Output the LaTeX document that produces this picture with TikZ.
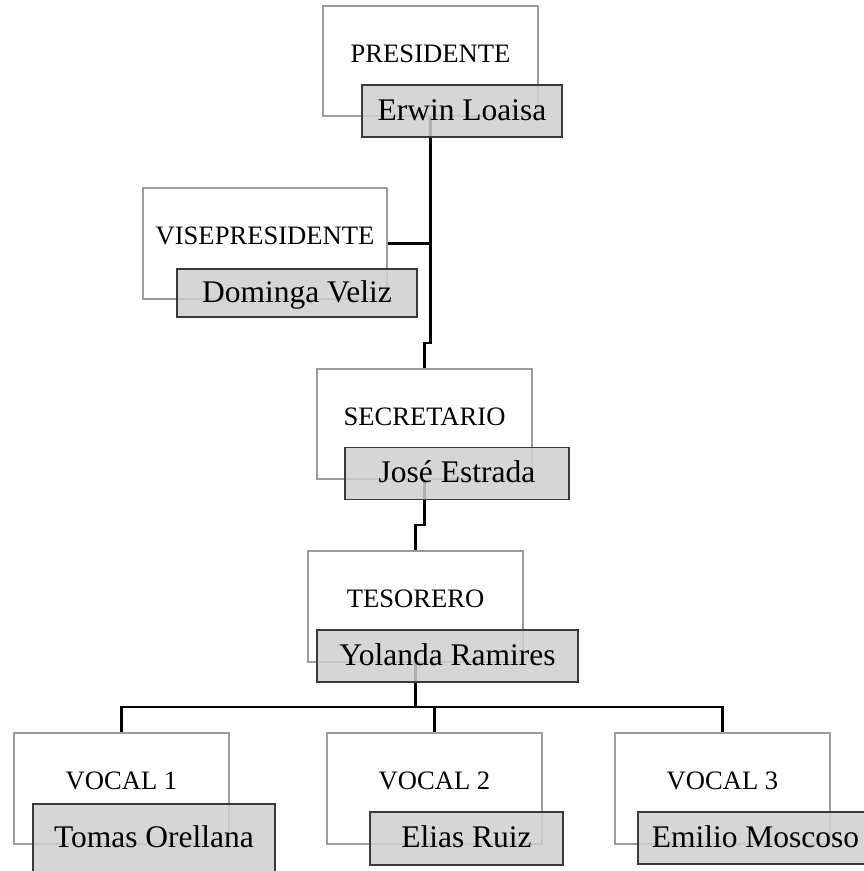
\documentclass[tikz,border=0pt]{standalone}
\usepackage{fontspec}
\setmainfont{Liberation Serif}
\usetikzlibrary{positioning, calc}
\definecolor{frmgray}{HTML}{9C9C9C}
\definecolor{boxgray}{HTML}{CFCFCF}
\definecolor{edgegray}{HTML}{3A3A3A}

\begin{document}
\begin{tikzpicture}[x=1pt, y=-1pt,
  rolebox/.style={draw=frmgray, line width=1.1pt, fill=white, inner sep=0pt},
  roletext/.style={anchor=base, font=\fontsize{26.6}{30}\selectfont},
  namebox/.style={draw=edgegray, line width=1.2pt, fill=boxgray, fill opacity=0.85,
    text opacity=1, inner sep=0pt, minimum height=52pt, text height=20pt, text depth=2pt,
    font=\fontsize{31.5}{36}\selectfont},
  link/.style={black, line width=2.6pt}]

% Page (pixel grid, y downwards)
\clip (0,0) rectangle (864,871);

% Frames of the offices
\node[rolebox, minimum width=215pt, minimum height=110pt] (pres) at (430.5,61) {};
\node[rolebox, minimum width=244pt, minimum height=111pt] (vise) at (265,243.5) {};
\node[rolebox, minimum width=215pt, minimum height=110pt] (secr) at (424.5,424) {};
\node[rolebox, minimum width=215pt, minimum height=111pt] (teso) at (415.5,606.5) {};
\node[rolebox, minimum width=215pt, minimum height=111pt] (voc1) at (121.5,788.5) {};
\node[rolebox, minimum width=215pt, minimum height=111pt] (voc2) at (434.5,788.5) {};
\node[rolebox, minimum width=215pt, minimum height=111pt] (voc3) at (722.5,788.5) {};

% Office titles
\node[roletext] (presl) at ([yshift=-57pt]pres.north) {PRESIDENTE};
\node[roletext] (visel) at ([yshift=-57pt]vise.north) {VISEPRESIDENTE};
\node[roletext] (secrl) at ([yshift=-57pt]secr.north) {SECRETARIO};
\node[roletext] (tesol) at ([yshift=-57pt]teso.north) {TESORERO};
\node[roletext] (voc1l) at ([yshift=-57pt]voc1.north) {VOCAL 1};
\node[roletext] (voc2l) at ([yshift=-57pt]voc2.north) {VOCAL 2};
\node[roletext] (voc3l) at ([yshift=-57pt]voc3.north) {VOCAL 3};

% Lines of the chart
\draw[link] (pres.south) -- (pres |- 0,343) -| (secr.north);
\draw[link] (vise.east) -- (vise.east -| pres);
\draw[link] (secr.south) -- (secr |- 0,525) -| (teso.north);
\draw[link] (teso.south) -- (teso |- 0,707);
\draw[link] (voc1.north) -- (voc1 |- 0,707) -- (voc3 |- 0,707) -- (voc3.north);
\draw[link] (voc2.north) -- (voc2 |- 0,707);

% Names
\node[namebox, minimum width=200pt] (pname) at (462,111) {Erwin Loaisa};
\node[namebox, minimum width=240pt, minimum height=48pt] (vname) at (297,293) {Dominga Veliz};
\node[namebox, minimum width=224pt] (sname) at (457,473.5) {José Estrada};
\node[namebox, minimum width=261pt] (tname) at (447.5,656) {Yolanda Ramires};
% this one runs past the bottom edge
\node[namebox, minimum width=242pt, minimum height=75pt, text depth=9pt] (v1name) at (154,841.5) {Tomas Orellana};
\node[namebox, minimum width=193pt, minimum height=53pt] (v2name) at (466.5,838.5) {Elias Ruiz};
\node[namebox, minimum width=235pt] (v3name) at (755.5,838) {Emilio Moscoso};

\end{tikzpicture}
\end{document}
